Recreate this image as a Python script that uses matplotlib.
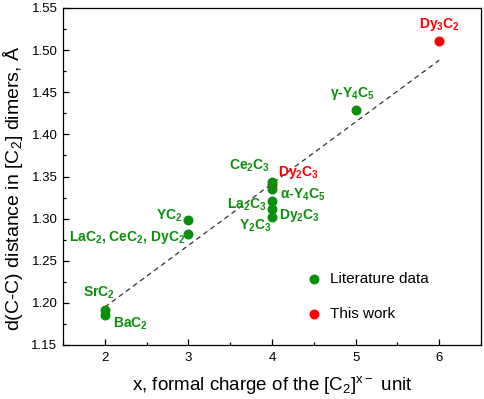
import matplotlib
matplotlib.use("Agg")
from matplotlib import pyplot as plt
from matplotlib.ticker import MultipleLocator, FormatStrFormatter

plt.rcParams['font.family'] = ['Liberation Sans', 'DejaVu Sans']
plt.rcParams['mathtext.default'] = 'regular'

green = '#0a8f0a'
red = '#ff0000'

# literature data
lit_x = [2, 2, 3, 3, 4, 4, 4, 4, 4, 5]
lit_y = [1.191, 1.186, 1.298, 1.282, 1.344, 1.335, 1.321, 1.312, 1.302, 1.429]
# this work
new_x = [4, 6]
new_y = [1.340, 1.511]
# trend line
fit_x = [2, 6]
fit_y = [1.195, 1.488]

# labels: text, x, y, dx(px), dy(px), ha, colour
labels = [
    ('Dy$_3$C$_2$', 6, 1.511, 0, 16, 'center', red),
    ('γ-Y$_4$C$_5$', 5, 1.429, -3, 16, 'center', green),
    ('Ce$_2$C$_3$', 4, 1.344, -2, 16, 'right', green),
    ('Dy$_2$C$_3$', 4, 1.340, 6, 12, 'left', red),
    ('α-Y$_4$C$_5$', 4, 1.335, 8, -6, 'left', green),
    ('La$_2$C$_3$', 4, 1.321, -6, -4, 'right', green),
    ('Dy$_2$C$_3$', 4, 1.312, 7, -7, 'left', green),
    ('Y$_2$C$_3$', 4, 1.302, 0, -9, 'right', green),
    ('YC$_2$', 3, 1.298, -6, 5, 'right', green),
    ('LaC$_2$, CeC$_2$, DyC$_2$', 3, 1.282, -3, -4, 'right', green),
    ('SrC$_2$', 2, 1.191, -6, 18, 'center', green),
    ('BaC$_2$', 2, 1.186, 8, -9, 'left', green),
]

fig = plt.figure(figsize=(4.84, 3.99), dpi=100)
ax = fig.add_axes([63/484, 1 - 345/399, (481-63)/484, (345-8)/399])

ax.plot(fit_x, fit_y, ls=(0, (4, 3)), color='#333333', lw=0.9, zorder=1)
ax.scatter(new_x, new_y, s=38, color=red, zorder=2, label='This work')
ax.scatter(lit_x, lit_y, s=38, color=green, zorder=3, label='Literature data')

for txt, x, y, dx, dy, ha, c in labels:
    ax.annotate(txt, (x, y), xytext=(dx, dy), textcoords='offset pixels',
                ha=ha, va='center', color=c, fontsize=10, fontweight='bold')

ax.set_xlim(1.5, 6.5)
ax.set_ylim(1.15, 1.55)
ax.xaxis.set_major_locator(MultipleLocator(1))
ax.xaxis.set_minor_locator(MultipleLocator(0.5))
ax.yaxis.set_major_locator(MultipleLocator(0.05))
ax.yaxis.set_minor_locator(MultipleLocator(0.025))
ax.yaxis.set_major_formatter(FormatStrFormatter('%.2f'))
ax.tick_params(which='major', direction='in', length=4, width=0.9, labelsize=9.5)
ax.tick_params(which='minor', direction='in', length=2.5, width=0.9)
ax.tick_params(axis='x', pad=5)
ax.tick_params(axis='y', pad=4)
for s in ax.spines.values():
    s.set_linewidth(0.9)

ax.set_xlabel('x, formal charge of the [C$_2$]$^{x-}$ unit', fontsize=13.5, labelpad=7)
ax.set_ylabel('d(C-C) distance in [C$_2$] dimers, Å', fontsize=14)
ax.yaxis.set_label_coords(-0.09, 0.465)

h, l = ax.get_legend_handles_labels()
ax.legend(h[::-1], l[::-1], loc='lower left', bbox_to_anchor=(0.53, 0.03), frameon=False,
          fontsize=11, labelspacing=1.4, handletextpad=0.1, scatterpoints=1)

fig.savefig('out.png', dpi=100)
